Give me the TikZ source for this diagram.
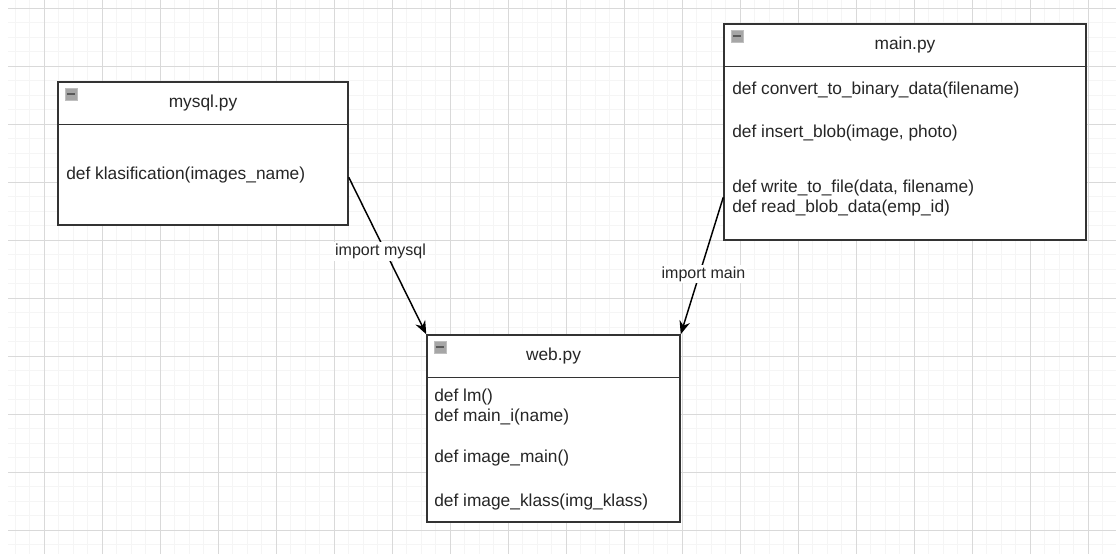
\documentclass[tikz,border=0pt]{standalone}
\usepackage{fontspec}
\setmainfont{Liberation Sans}
\usetikzlibrary{arrows.meta}

\begin{document}
\begin{tikzpicture}[x=0.75pt,y=-0.75pt,
  every node/.style={font=\fontsize{13}{15.6}\selectfont,text=black!85},
  pybox/.style={draw=black!80,line width=1.1pt,fill=white,rectangle,inner sep=0pt},
  headline/.style={draw=black!80,line width=1.1pt},
  title/.style={inner sep=0pt},
  deflabel/.style={anchor=west,inner sep=0pt},
  iconbox/.style={fill=black!35,draw=black!25,line width=0.4pt},
  implabel/.style={fill=white,inner sep=1.5pt,font=\fontsize{12}{14}\selectfont},
  imparrow/.style={draw=black,line width=1.1pt,-{Stealth[length=10pt,width=8pt]}},
  minorgrid/.style={draw=black!4,line width=0.6pt},
  majorgrid/.style={draw=black!15,line width=0.75pt}]
\def\pyhead#1#2{
  \draw[headline] ([shift={(0,43)}]#1.north west) -- ([shift={(0,43)}]#1.north east);
  \node[title] (#1-title) at ([shift={(0,22)}]#1.north) {#2};
  \draw[iconbox] ([shift={(8,7)}]#1.north west) rectangle ++(12,12);
  \draw[black!65,line width=1.3pt] ([shift={(10,13)}]#1.north west) -- ++(8,0);
}
\fill[white] (0,0) rectangle (1116,554);
\useasboundingbox (0,0) rectangle (1116,554);

% grid
\foreach \i in {-2,...,74} \draw[minorgrid] ({44+14.5*\i},0) -- ({44+14.5*\i},554);
\foreach \j in {0,...,37} \draw[minorgrid] (8,{8+14.5*\j}) -- (1116,{8+14.5*\j});
\foreach \i in {0,...,18} \draw[majorgrid] ({44+58*\i},0) -- ({44+58*\i},554);
\foreach \j in {0,...,9} \draw[majorgrid] (8,{8+58*\j}) -- (1116,{8+58*\j});

% boxes
\node[pybox,minimum width=217.5pt,minimum height=107.25pt] (mysql) at (203,153.5) {};
\node[pybox,minimum width=271.5pt,minimum height=162pt] (mainpy) at (905,132) {};
\node[pybox,minimum width=189.75pt,minimum height=140.25pt] (web) at (553.5,428.5) {};

\pyhead{mysql}{mysql.py}
\pyhead{mainpy}{main.py}
\pyhead{web}{web.py}

% functions
\node[deflabel] (k1) at (66,175) {def klasification(images\_name)};
\foreach \n/\y/\t in {1/90/{def convert\_to\_binary\_data(filename)},
                     2/133/{def insert\_blob(image, photo)},
                     3/188/{def write\_to\_file(data, filename)},
                     4/208/{def read\_blob\_data(emp\_id)}}
  \node[deflabel] (m\n) at (732,\y) {\t};
\foreach \n/\y/\t in {1/397/{def lm()},
                     2/417/{def main\_i(name)},
                     3/458/{def image\_main()},
                     4/502/{def image\_klass(img\_klass)}}
  \node[deflabel] (w\n) at (434,\y) {\t};

% imports
\draw[imparrow] ([shift={(0,96)}]mysql.north east) -- node[implabel,pos=0.47,xshift=-3.5pt] (imp1) {import mysql} (web.north west);
\draw[imparrow] ([shift={(0,174)}]mainpy.north west) -- node[implabel,pos=0.56,xshift=3pt] (imp2) {import main} (web.north east);
\end{tikzpicture}
\end{document}
